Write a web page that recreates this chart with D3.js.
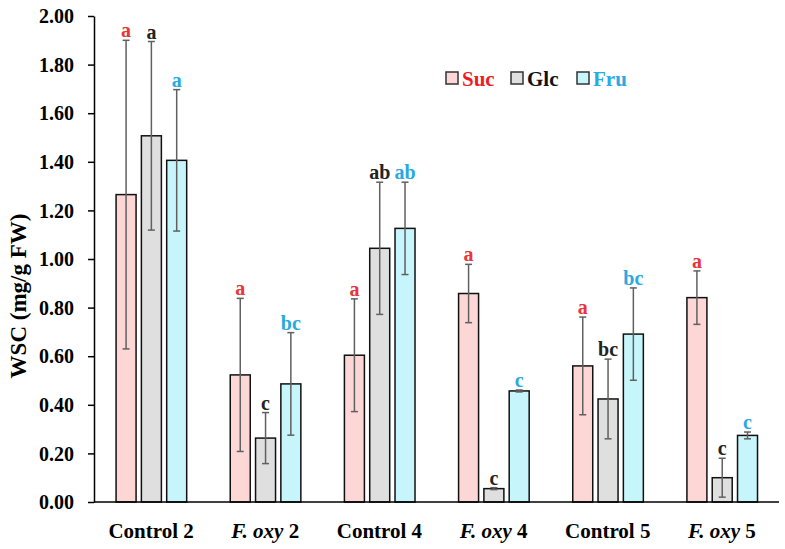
<!DOCTYPE html>
<html><head><meta charset="utf-8">
<script src="https://cdn.jsdelivr.net/npm/d3@7"></script>
<style>body{margin:0;background:#fff}svg{display:block}</style>
</head><body><svg id="c" width="785" height="549"></svg>
<script>
const groups = ["Control 2","F. oxy 2","Control 4","F. oxy 4","Control 5","F. oxy 5"];
const series = ["Suc","Glc","Fru"];
const sucMean = [1.265,0.523,0.604,0.858,0.560,0.841];
const sucErr  = [0.635,0.315,0.232,0.120,0.201,0.110];
const glcMean = [1.507,0.263,1.044,0.055,0.424,0.100];
const glcErr  = [0.388,0.105,0.272,0.004,0.164,0.080];
const fruMean = [1.406,0.486,1.126,0.457,0.691,0.274];
const fruErr  = [0.291,0.211,0.190,0.004,0.190,0.014];
const sucLetters = ["a","a","a","a","a","a"];
const glcLetters = ["a","c","ab","c","bc","c"];
const fruLetters = ["a","bc","ab","c","bc","c"];
const yTicks = [0,0.2,0.4,0.6,0.8,1.0,1.2,1.4,1.6,1.8,2.0];

const fills = {Suc:"#fdd6d6",Glc:"#e0dfdf",Fru:"#c6f5fb"};
const letterColors = {Suc:"#e8353b",Glc:"#222222",Fru:"#29a9e1"};
const legendColors = {Suc:"#ee1c25",Glc:"#111111",Fru:"#29abe2"};
const FONT = '"Liberation Serif"';

const data = groups.map((g,i)=>({group:g, bars:[
  {s:"Suc",v:sucMean[i],e:sucErr[i],l:sucLetters[i]},
  {s:"Glc",v:glcMean[i],e:glcErr[i],l:glcLetters[i]},
  {s:"Fru",v:fruMean[i],e:fruErr[i],l:fruLetters[i]}]}));

const svg = d3.select("#c");
const x0 = d3.scaleBand().domain(groups).range([94,779]);
const x1 = d3.scaleBand().domain(series).range([-35,35.6]).paddingInner(0.21);
const y = d3.scaleLinear().domain([0,2]).range([502,16]);

function ff(sel,size){ return sel.attr("font-family",null).style("font-family",FONT).style("font-weight","bold").style("font-size",size+"px"); }

// y axis
const yAxis = d3.axisLeft(y).tickValues(yTicks).tickFormat(d3.format(".2f")).tickSize(6).tickSizeOuter(0);
const ga = svg.append("g").attr("transform","translate(94,0)").call(yAxis);
ga.attr("font-family",null).attr("font-size",null);
ga.select(".domain").attr("stroke","#000").attr("stroke-width",1.5);
ga.selectAll(".tick line").attr("stroke","#000").attr("stroke-width",1.5);
ff(ga.selectAll(".tick text").attr("x",-20).attr("dy","0.33em").attr("fill","#000"),20);

const gg = svg.selectAll("g.grp").data(data).join("g").attr("class","grp")
  .attr("transform",d=>`translate(${x0(d.group)+x0.bandwidth()/2},0)`);

gg.selectAll("rect").data(d=>d.bars).join("rect")
  .attr("x",d=>x1(d.s)).attr("width",x1.bandwidth())
  .attr("y",d=>y(d.v)).attr("height",d=>y(0)-y(d.v))
  .attr("fill",d=>fills[d.s]).attr("stroke","#111").attr("stroke-width",1.5);

const eb = gg.selectAll("g.err").data(d=>d.bars).join("g").attr("class","err")
  .attr("stroke","#606060").attr("stroke-width",1.5);
const cx = d=>x1(d.s)+x1.bandwidth()/2;
eb.append("line").attr("x1",cx).attr("x2",cx).attr("y1",d=>y(d.v+d.e)).attr("y2",d=>y(d.v-d.e));
eb.append("line").attr("x1",d=>cx(d)-3.5).attr("x2",d=>cx(d)+3.5).attr("y1",d=>y(d.v+d.e)).attr("y2",d=>y(d.v+d.e));
eb.append("line").attr("x1",d=>cx(d)-3.5).attr("x2",d=>cx(d)+3.5).attr("y1",d=>y(d.v-d.e)).attr("y2",d=>y(d.v-d.e));

ff(gg.selectAll("text.lt").data(d=>d.bars).join("text").attr("class","lt")
  .attr("x",cx).attr("y",d=>y(d.v+d.e)-3).attr("text-anchor","middle")
  .attr("fill",d=>letterColors[d.s]).text(d=>d.l),20);

// x axis line
svg.append("line").attr("x1",94).attr("x2",779).attr("y1",y(0)).attr("y2",y(0))
  .attr("stroke","#000").attr("stroke-width",1.5);

// x labels
const xl = ff(svg.selectAll("text.xl").data(groups).join("text").attr("class","xl")
  .attr("x",d=>x0(d)+x0.bandwidth()/2).attr("y",538).attr("text-anchor","middle"),21);
xl.each(function(d){
  const t = d3.select(this);
  if (d.startsWith("F. oxy")) {
    t.append("tspan").style("font-style","italic").text("F. oxy");
    t.append("tspan").text(d.slice(6));
  } else t.text(d);
});

// y title
ff(svg.append("text").attr("transform","translate(26,296) rotate(-90)").attr("text-anchor","middle")
  .text("WSC (mg/g FW)"),23);

// legend
const legX = [446,511,577];
const lg = svg.selectAll("g.leg").data(series).join("g").attr("class","leg")
  .attr("transform",(d,i)=>`translate(${legX[i]},72)`);
lg.append("rect").attr("width",12).attr("height",12).attr("fill",d=>fills[d]).attr("stroke","#333").attr("stroke-width",1.5);
ff(lg.append("text").attr("x",16).attr("y",14).attr("fill",d=>legendColors[d]).text(d=>d),21);
</script></body></html>
